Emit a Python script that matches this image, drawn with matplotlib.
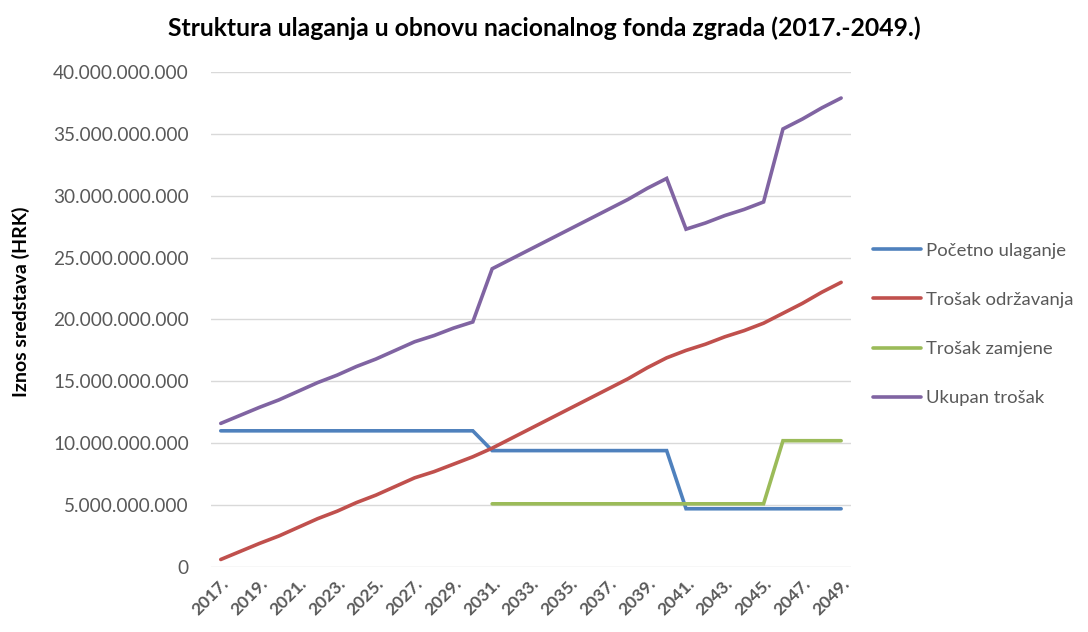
import numpy as np
import matplotlib
matplotlib.use('Agg')
import matplotlib.pyplot as plt
from matplotlib.ticker import FuncFormatter

plt.rcParams['font.family'] = ['Lato', 'DejaVu Sans']

# data (values in HRK)
years = list(range(2017, 2050))
pocetno = [11.0e9]*14 + [9.4e9]*10 + [4.7e9]*9
odrzavanje = [0.6e9, 1.25e9, 1.9e9, 2.5e9, 3.2e9, 3.9e9, 4.5e9, 5.2e9, 5.8e9, 6.5e9,
              7.2e9, 7.7e9, 8.3e9, 8.9e9, 9.6e9, 10.4e9, 11.2e9, 12.0e9, 12.8e9, 13.6e9,
              14.4e9, 15.2e9, 16.1e9, 16.9e9, 17.5e9, 18.0e9, 18.6e9, 19.1e9, 19.7e9,
              20.5e9, 21.3e9, 22.2e9, 23.0e9]
zamjena = [np.nan]*14 + [5.1e9]*15 + [10.2e9]*4
ukupno = [11.6e9, 12.25e9, 12.9e9, 13.5e9, 14.2e9, 14.9e9, 15.5e9, 16.2e9, 16.8e9, 17.5e9,
          18.2e9, 18.7e9, 19.3e9, 19.8e9, 24.1e9, 24.9e9, 25.7e9, 26.5e9, 27.3e9, 28.1e9,
          28.9e9, 29.7e9, 30.6e9, 31.4e9, 27.3e9, 27.8e9, 28.4e9, 28.9e9, 29.5e9,
          35.4e9, 36.2e9, 37.1e9, 37.9e9]
series_names = ['Početno ulaganje', 'Trošak održavanja', 'Trošak zamjene', 'Ukupan trošak']
title = 'Struktura ulaganja u obnovu nacionalnog fonda zgrada (2017.-2049.)'
ylabel = 'Iznos sredstava (HRK)'

colors = ['#4F81BD', '#C0504D', '#9BBB59', '#8064A2']
grey = '#595959'

fig = plt.figure(figsize=(10.88, 6.32), dpi=100)
ax = fig.add_axes([0.194, 0.103, 0.588, 0.783])

x = np.arange(len(years))
for vals, name, c in zip([pocetno, odrzavanje, zamjena, ukupno], series_names, colors):
    ax.plot(x, vals, color=c, lw=2.6, label=name, solid_capstyle='round', solid_joinstyle='miter')

ax.set_xlim(-0.5, len(years) - 0.5)
ax.set_ylim(0, 40e9)
ax.set_yticks(np.arange(0, 40e9 + 1, 5e9))
ax.yaxis.set_major_formatter(FuncFormatter(lambda v, p: '{:,.0f}'.format(v).replace(',', '.')))
ax.grid(axis='y', color='#D9D9D9', lw=1.0)
ax.set_axisbelow(True)
for s in ax.spines.values():
    s.set_visible(False)
ax.tick_params(axis='y', length=0, pad=16, labelsize=13.7, labelcolor=grey)
ax.set_xticks(x[::2])
ax.set_xticklabels(['{}.'.format(y) for y in years[::2]], rotation=45, ha='right',
                   rotation_mode='anchor', fontsize=12.5, fontweight='bold', color=grey)
ax.tick_params(axis='x', length=0, pad=6)

# y label and title placed on the figure
fig.text(0.019, 0.522, ylabel, rotation=90, ha='center', va='center',
         fontsize=14, fontweight='bold', color='black')
fig.text(0.5, 0.956, title, ha='center', va='center', fontsize=17.8, fontweight='bold')

leg = ax.legend(loc='center left', bbox_to_anchor=(1.0, 0.49), frameon=False,
                fontsize=13.3, labelspacing=1.8, handlelength=2.6, handletextpad=0.25,
                borderaxespad=0.8)
for t in leg.get_texts():
    t.set_color(grey)

fig.savefig('out.png', dpi=100)
